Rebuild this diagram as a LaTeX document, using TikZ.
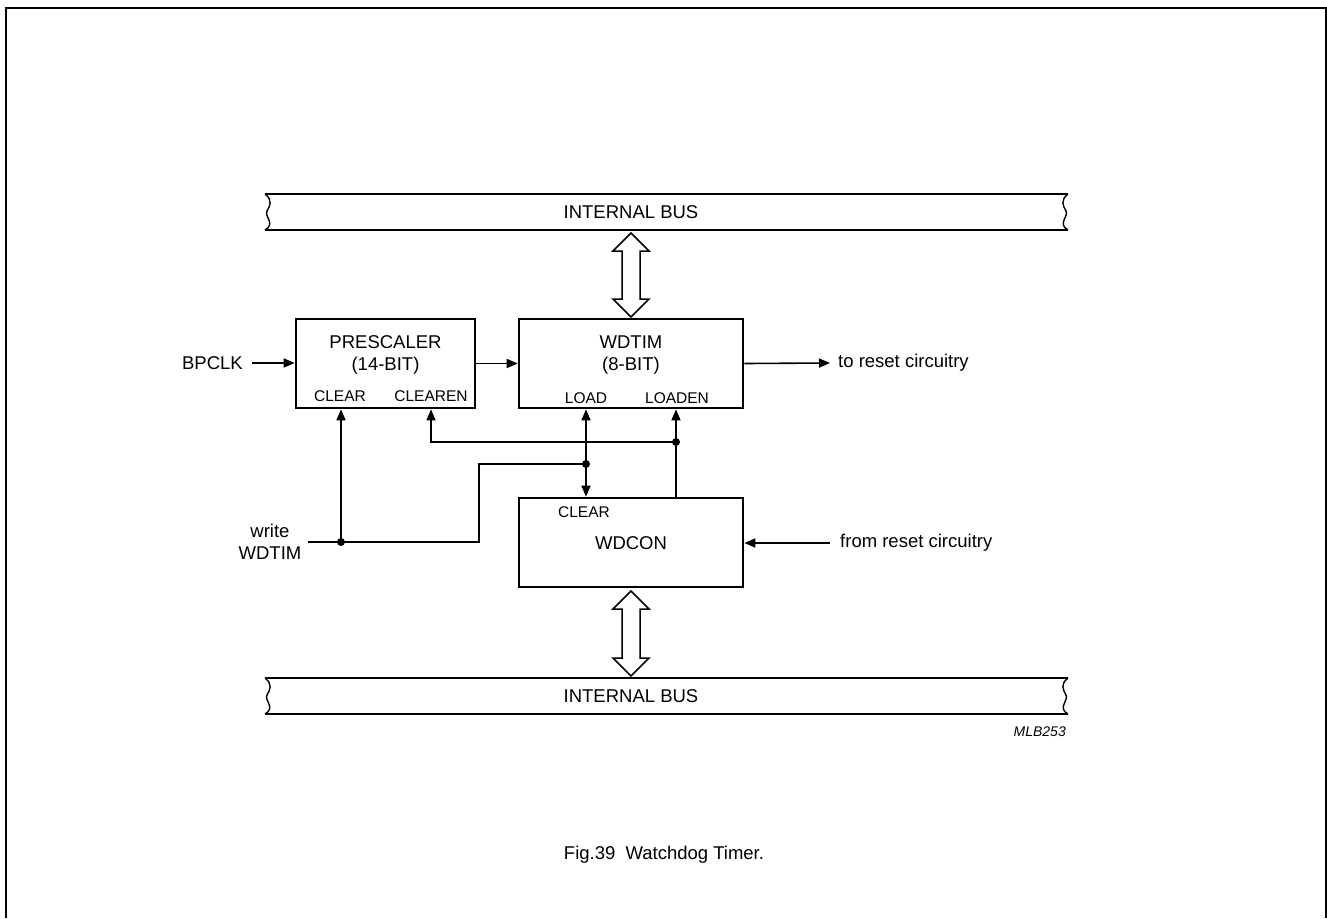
\documentclass[tikz,border=0pt]{standalone}
\usepackage{fontspec}
\setmainfont{Liberation Sans}
\usetikzlibrary{arrows.meta,calc}
\begin{document}
\begin{tikzpicture}[x=1pt,y=-1pt,
 box/.style={draw,line width=2.6pt,minimum width=224pt,minimum height=89pt,inner sep=0pt},
 wire/.style={line width=1.6pt},
 arr/.style={wire,-{Triangle[length=11pt,width=9pt]}},
 biarr/.style={wire,{Triangle[length=11pt,width=9pt]}-{Triangle[length=11pt,width=9pt]}},
 lbl/.style={font=\fontsize{18.5}{22}\selectfont,inner sep=0pt,align=center},
 port/.style={font=\fontsize{15.5}{18}\selectfont,inner sep=0pt},
 dot/.style={circle,fill,inner sep=0pt,minimum size=8pt},
 busline/.style={line width=1.8pt},
 hollow/.style={draw,line width=1.5pt,fill=white,line join=miter}]
\useasboundingbox (0,0) rectangle (1327,918);
% frame
\draw[line width=2pt] (6,918) -- (6,8) -- (1326,8) -- (1326,918);

% top bus
\draw[busline] (265,194) -- (1068,194);
\draw[busline] (265,230) -- (1068,230);
\draw[line width=1.4pt] (265,194) .. controls (273,200) and (270,206) .. (267,211) .. controls (264,216) and (276,224) .. (265,230);
\draw[line width=1.4pt] (1068,194) .. controls (1060,200) and (1063,206) .. (1066,211) .. controls (1069,216) and (1057,224) .. (1068,230);
\node[lbl] (bustop) at (631,212) {INTERNAL BUS};

% bottom bus
\draw[busline] (265,678) -- (1068,678);
\draw[busline] (265,714) -- (1068,714);
\draw[line width=1.4pt] (265,678) .. controls (273,684) and (270,690) .. (267,695) .. controls (264,700) and (276,708) .. (265,714);
\draw[line width=1.4pt] (1068,678) .. controls (1060,684) and (1063,690) .. (1066,695) .. controls (1069,700) and (1057,708) .. (1068,714);
\node[lbl] (busbot) at (631,696) {INTERNAL BUS};

% hollow bidirectional arrows
\draw[hollow] (631,233) -- (649,251) -- (640,251) -- (640,299) -- (649,299) -- (631,317) -- (613,299) -- (622,299) -- (622,251) -- (613,251) -- cycle;
\draw[hollow] (631,591) -- (649,609) -- (640,609) -- (640,658) -- (649,658) -- (631,676) -- (613,658) -- (622,658) -- (622,609) -- (613,609) -- cycle;

% boxes
\node[box,minimum width=179pt] (pre) at (385.5,363.5) {};
\node[box] (wdtim) at (631,363.5) {};
\node[box] (wdcon) at (631,542.5) {};

\node[lbl] (prel) at (385.5,355) {PRESCALER\\(14-BIT)};
\node[lbl] (wdtiml) at (631,355) {WDTIM\\(8-BIT)};
\node[port] (pclear) at (340,396) {CLEAR};
\node[port] (pclearen) at (431,396) {CLEAREN};
\node[port] (load) at (586,398) {LOAD};
\node[port] (loaden) at (677,398) {LOADEN};
\node[port] (cclear) at (584,512) {CLEAR};
\node[lbl] (wdconl) at (631,543) {WDCON};

% outside labels
\node[lbl,anchor=east] (bpclk) at (243,363) {BPCLK};
\node[lbl,anchor=west] (toreset) at (838,363) {to reset circuitry};
\node[lbl,anchor=west] (fromreset) at (840,543) {from reset circuitry};
\node[lbl] (write) at (270,542) {write\\WDTIM};
\node[font=\fontsize{14}{16}\selectfont\itshape,anchor=east,inner sep=0pt] (mlb) at (1066,732) {MLB253};
\node[lbl] (cap) at (664,855) {Fig.39\hspace{0.55em}Watchdog Timer.};

% dots
\node[dot] (d1) at (676,442) {};
\node[dot] (d2) at (586,464) {};
\node[dot] (d3) at (341,542) {};
\coordinate (j1) at (479,542);
\coordinate (j2) at (479,464);

% connectors
\draw[arr] ([xshift=9pt]bpclk.east) -- (pre.west |- bpclk.east);
\draw[arr] (pre.east) -- (wdtim.west);
\draw[arr] (wdtim.east) -- ([xshift=-8pt]toreset.west);
\draw[arr] ([xshift=-10pt]fromreset.west) -- (wdcon.east |- fromreset.west);
\draw[arr] (wdcon.north -| d1) -- (wdtim.south -| d1);
\draw[arr] (d1.center) -- (d1.center -| pclearen) -- (pre.south -| pclearen);
\draw[biarr] (wdtim.south -| d2) -- (wdcon.north -| d2);
\draw[wire] ([xshift=6pt]write.east) -- (d3.center) -- (j1) -- (j2) -- (d2.center);
\draw[arr] (d3.center) -- (pre.south -| d3);
\end{tikzpicture}
\end{document}
